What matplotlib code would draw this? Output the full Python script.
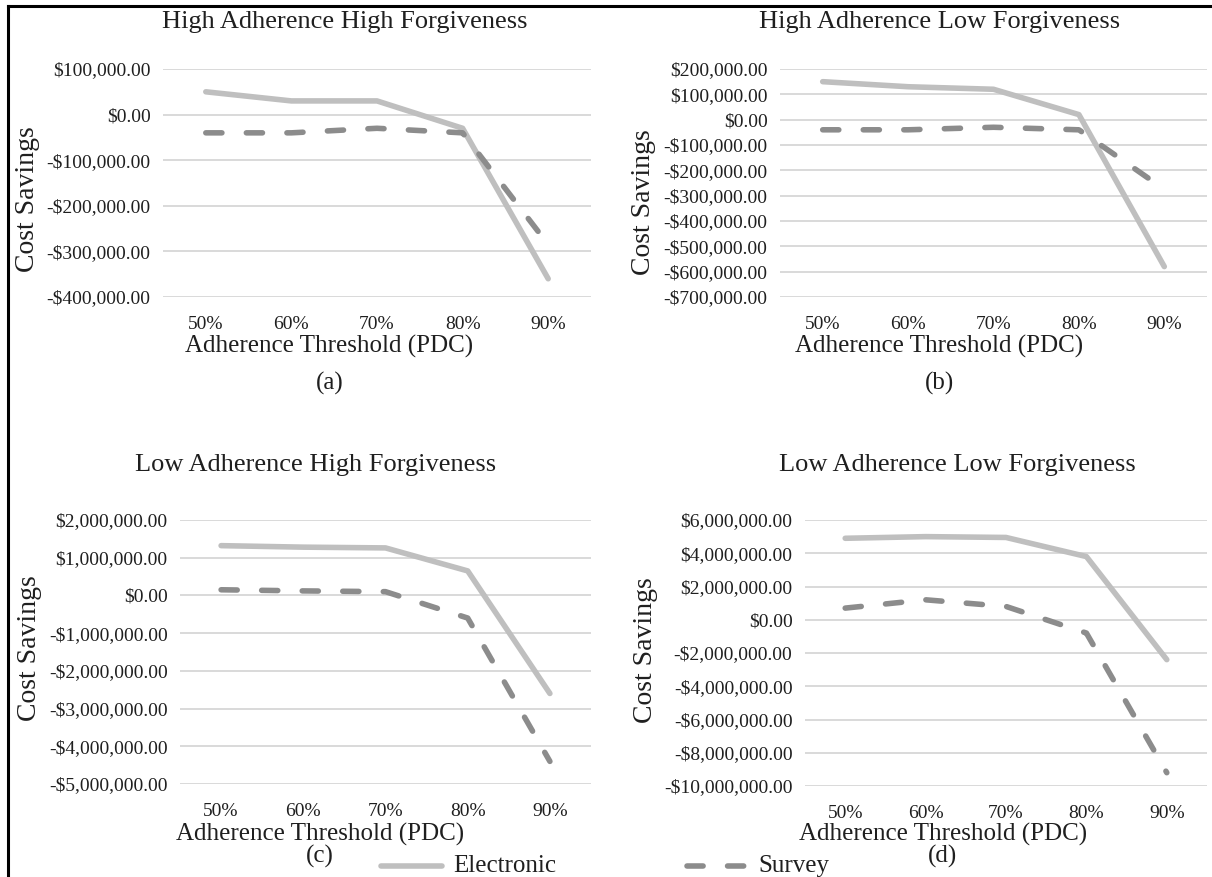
import matplotlib
matplotlib.use("Agg")
import matplotlib.pyplot as plt
from matplotlib.lines import Line2D
from matplotlib.ticker import FuncFormatter

plt.rcParams["font.family"] = ["Liberation Serif", "DejaVu Serif"]

thresholds = ["50%", "60%", "70%", "80%", "90%"]

titles = ["High Adherence High Forgiveness", "High Adherence Low Forgiveness",
          "Low Adherence High Forgiveness", "Low Adherence Low Forgiveness"]
panel_labels = ["(a)", "(b)", "(c)", "(d)"]

# cost savings in dollars
electronic_a = [50000, 30000, 30000, -30000, -360000]
survey_a = [-40000, -40000, -30000, -40000, -285000]
electronic_b = [150000, 130000, 120000, 20000, -580000]
survey_b = [-40000, -40000, -30000, -40000, -275000]
electronic_c = [1320000, 1280000, 1260000, 650000, -2600000]
survey_c = [150000, 120000, 100000, -600000, -4400000]
electronic_d = [4900000, 5000000, 4950000, 3800000, -2400000]
survey_d = [700000, 1200000, 800000, -800000, -9200000]

y_ranges = [(-400000, 100000, 100000), (-700000, 200000, 100000),
            (-5000000, 2000000, 1000000), (-10000000, 6000000, 2000000)]

W, H = 1212, 877
fig = plt.figure(figsize=(W / 100, H / 100), dpi=100)

# axes boxes in pixels: left, top, right, bottom
boxes = [(163, 69, 591, 297), (780, 69, 1207, 297),
         (180, 520, 591, 784), (805, 520, 1207, 786)]
title_pos = [(345, 22), (940, 22), (316, 465), (957, 465)]
xlabel_pos = [(329, 346), (939, 346), (320, 834), (943, 834)]
plabel_pos = [(330, 383), (940, 383), (320, 856), (943, 856)]
ylabel_pos = [(28, 199), (644, 202), (30, 648), (645, 650)]

data = [(electronic_a, survey_a), (electronic_b, survey_b),
        (electronic_c, survey_c), (electronic_d, survey_d)]

elec_color = "#BFBFBF"
surv_color = "#8C8C8C"
lw = 4.0
dash = (2.9, 4.4)
txt = "#1f1f1f"


def money(v, pos):
    if v < 0:
        return "-${:,.2f}".format(-v)
    return "${:,.2f}".format(v)


for i in range(4):
    l, t, r, b = boxes[i]
    ax = fig.add_axes([l / W, 1 - b / H, (r - l) / W, (b - t) / H])
    elec, surv = data[i]
    x = range(len(thresholds))
    ax.plot(x, elec, color=elec_color, lw=lw, solid_capstyle="round",
            solid_joinstyle="round", zorder=3)
    ax.plot(x, surv, color=surv_color, lw=lw, dashes=dash,
            dash_capstyle="round", zorder=4)
    lo, hi, step = y_ranges[i]
    ax.set_ylim(lo, hi)
    ax.set_yticks(range(lo, hi + 1, step))
    ax.yaxis.set_major_formatter(FuncFormatter(money))
    ax.set_xlim(-0.5, 4.5)
    ax.set_xticks(list(x))
    ax.set_xticklabels(thresholds)
    ax.grid(axis="y", color="#D9D9D9", lw=1.4, zorder=0)
    for s in ax.spines.values():
        s.set_visible(False)
    ax.tick_params(length=0, labelsize=14, colors=txt)
    ax.tick_params(axis="x", pad=14)
    ax.tick_params(axis="y", pad=9)
    ax.set_axisbelow(True)

    fig.text(title_pos[i][0] / W, 1 - title_pos[i][1] / H, titles[i],
             ha="center", va="center", fontsize=19, color=txt)
    fig.text(xlabel_pos[i][0] / W, 1 - xlabel_pos[i][1] / H,
             "Adherence Threshold (PDC)", ha="center", va="center",
             fontsize=18, color=txt)
    fig.text(plabel_pos[i][0] / W, 1 - plabel_pos[i][1] / H, panel_labels[i],
             ha="center", va="center", fontsize=18, color=txt)
    fig.text(ylabel_pos[i][0] / W, 1 - ylabel_pos[i][1] / H, "Cost Savings",
             rotation=90, ha="center", va="center", fontsize=20, color=txt)

# legend drawn by hand at the bottom
ly = 1 - 866 / H
fig.add_artist(Line2D([381 / W, 442 / W], [ly, ly], color=elec_color, lw=lw,
                      solid_capstyle="round", transform=fig.transFigure))
fig.text(453 / W, ly, "Electronic", ha="left", va="center", fontsize=18,
         color=txt)
fig.add_artist(Line2D([687 / W, 747 / W], [ly, ly], color=surv_color, lw=lw,
                      dashes=dash, dash_capstyle="round",
                      transform=fig.transFigure))
fig.text(758 / W, ly, "Survey", ha="left", va="center", fontsize=18,
         color=txt)

# partial frame (left and top)
fig.add_artist(Line2D([8 / W, 8 / W], [0, 1 - 6 / H], color="black", lw=2.2,
                      transform=fig.transFigure))
fig.add_artist(Line2D([8 / W, 1], [1 - 6 / H, 1 - 6 / H], color="black", lw=2.2,
                      transform=fig.transFigure))

fig.savefig("out.png", dpi=100)
